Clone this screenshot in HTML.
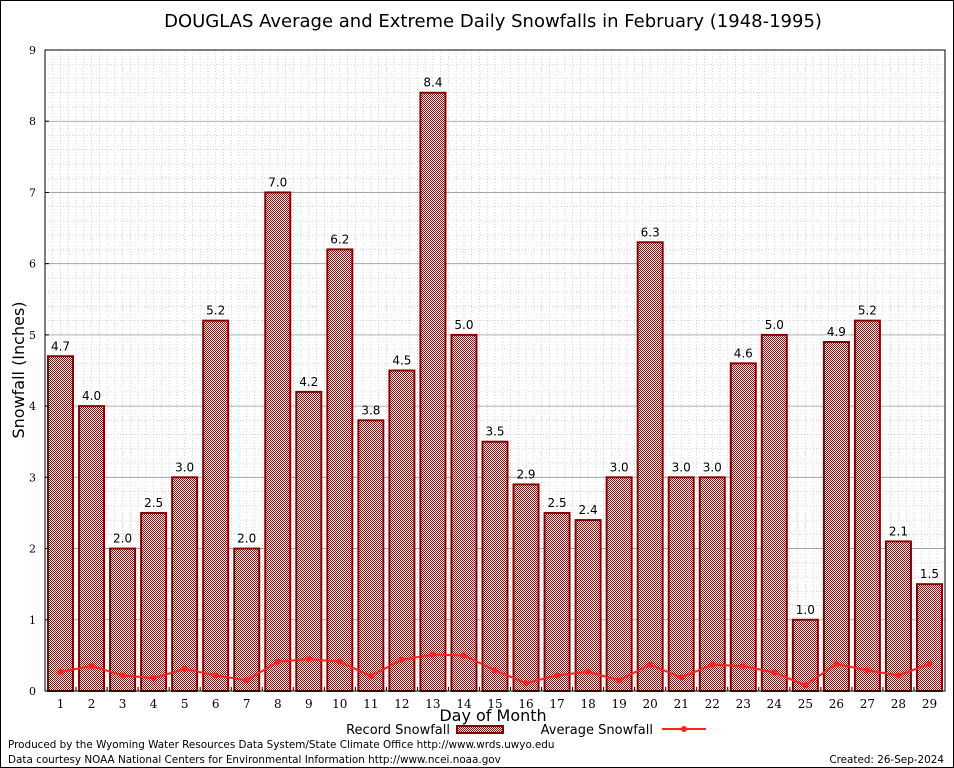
<!DOCTYPE html>
<html><head><meta charset="utf-8"><style>
html,body{margin:0;padding:0;background:#fff;}
svg{display:block;font-family:"DejaVu Sans","Liberation Sans",sans-serif;}
</style></head><body>
<svg id="chart" width="954" height="768" viewBox="0 0 954 768" xmlns="http://www.w3.org/2000/svg">
<defs>
<pattern id="chk" width="2" height="2" patternUnits="userSpaceOnUse">
<rect width="2" height="2" fill="#fff"/><rect width="1" height="1" fill="#c00000"/><rect x="1" y="1" width="1" height="1" fill="#c00000"/>
</pattern>
</defs>
<rect x="0.5" y="0.5" width="953" height="767" fill="#fff" stroke="#000"/>
<text x="493" y="27" font-size="18" text-anchor="middle">DOUGLAS Average and Extreme Daily Snowfalls in February (1948-1995)</text>
<g id="grid"></g>
<g id="bars"></g>
<g id="avg"></g>
<g id="axes"></g>
<text x="24" y="370" font-size="16" text-anchor="middle" transform="rotate(-90 24 370)">Snowfall (Inches)</text>
<text x="493" y="721" font-size="16" text-anchor="middle">Day of Month</text>
<g>
<text x="450" y="734" font-size="13" text-anchor="end">Record Snowfall</text>
<rect x="457" y="726" width="46" height="7" fill="url(#chk)" stroke="#8b0000" stroke-width="2"/>
</g>
<g>
<text x="653" y="734" font-size="13" text-anchor="end">Average Snowfall</text>
<line x1="662" y1="729" x2="706" y2="729" stroke="#ff2020" stroke-width="2"/>
<circle cx="684" cy="729" r="3" fill="#ff2020"/>
</g>
<text x="8" y="748" font-size="10.4">Produced by the Wyoming Water Resources Data System/State Climate Office http://www.wrds.uwyo.edu</text>
<text x="8" y="763" font-size="10.4">Data courtesy NOAA National Centers for Environmental Information http://www.ncei.noaa.gov</text>
<text x="944" y="763" font-size="10.4" text-anchor="end">Created: 26-Sep-2024</text>
</svg>
<script>
const days = [1,2,3,4,5,6,7,8,9,10,11,12,13,14,15,16,17,18,19,20,21,22,23,24,25,26,27,28,29];
const recordSnow = [4.7,4.0,2.0,2.5,3.0,5.2,2.0,7.0,4.2,6.2,3.8,4.5,8.4,5.0,3.5,2.9,2.5,2.4,3.0,6.3,3.0,3.0,4.6,5.0,1.0,4.9,5.2,2.1,1.5];
const avgSnow = [0.27,0.35,0.22,0.18,0.31,0.22,0.15,0.41,0.45,0.41,0.21,0.44,0.51,0.50,0.29,0.11,0.22,0.27,0.15,0.37,0.19,0.37,0.35,0.26,0.08,0.38,0.29,0.22,0.38];
const yTicks = [0,1,2,3,4,5,6,7,8,9];

const NS="http://www.w3.org/2000/svg";
const L=45,R=945,T=50,B=691,YMAX=9;
const band=(R-L)/days.length;
const xC=i=>L+band*(i+0.5);
const yS=v=>B-(v/YMAX)*(B-T);
function mk(tag,attrs,parent,txt){const e=document.createElementNS(NS,tag);for(const k in attrs)e.setAttribute(k,attrs[k]);if(txt!==undefined)e.textContent=txt;parent.appendChild(e);return e;}
const grid=document.getElementById('grid'),bars=document.getElementById('bars'),avg=document.getElementById('avg'),axes=document.getElementById('axes');
for(let v=0;v<=YMAX+1e-9;v+=0.2){const g=mk('line',{x1:L,x2:R,y1:yS(v),y2:yS(v),stroke:'#bbb','stroke-width':0.6,'stroke-dasharray':'1,2'},grid);

}
for(let x=L;x<=R;x+=band/4){const g=mk('line',{x1:x,x2:x,y1:T,y2:B,stroke:'#bbb','stroke-width':0.6,'stroke-dasharray':'1,2'},grid);

}
yTicks.forEach(v=>{const g=mk('line',{x1:L,x2:R,y1:yS(v),y2:yS(v),stroke:'#999','stroke-width':0.8},grid);


const t=mk('text',{x:L-9,y:yS(v)+4,'font-size':11,'text-anchor':'end','font-family':'DejaVu Serif,Liberation Serif,serif'},axes,String(v));


const tk=mk('line',{x1:L,x2:L+4,y1:yS(v),y2:yS(v),stroke:'#000'},axes);

});
const bw=25;
days.forEach((d,i)=>{const v=recordSnow[i];const r=mk('rect',{x:xC(i)-bw/2,y:yS(v),width:bw,height:B-yS(v),fill:'url(#chk)',stroke:'#8b0000','stroke-width':2},bars);


const t=mk('text',{x:xC(i),y:yS(v)-6,'font-size':12,'text-anchor':'middle'},bars,v.toFixed(1));


const xl=mk('text',{x:xC(i),y:B+17,'font-size':12,'text-anchor':'middle','font-family':'DejaVu Serif,Liberation Serif,serif'},axes,String(d));


const tk=mk('line',{x1:L+band*i,x2:L+band*i,y1:B,y2:B-4,stroke:'#000'},axes);

});
const pts=avgSnow.map((v,i)=>xC(i)+','+yS(v)).join(' ');
const pl=mk('polyline',{points:pts,fill:'none',stroke:'#ff2020','stroke-width':2,'stroke-linejoin':'round'},avg);


avgSnow.forEach((v,i)=>{const c=mk('circle',{cx:xC(i),cy:yS(v),r:3,fill:'#ff2020'},avg);

});
const fr=mk('rect',{x:L,y:T,width:R-L,height:B-T,fill:'none',stroke:'#000','stroke-width':1},axes);


</script>
</body></html>
